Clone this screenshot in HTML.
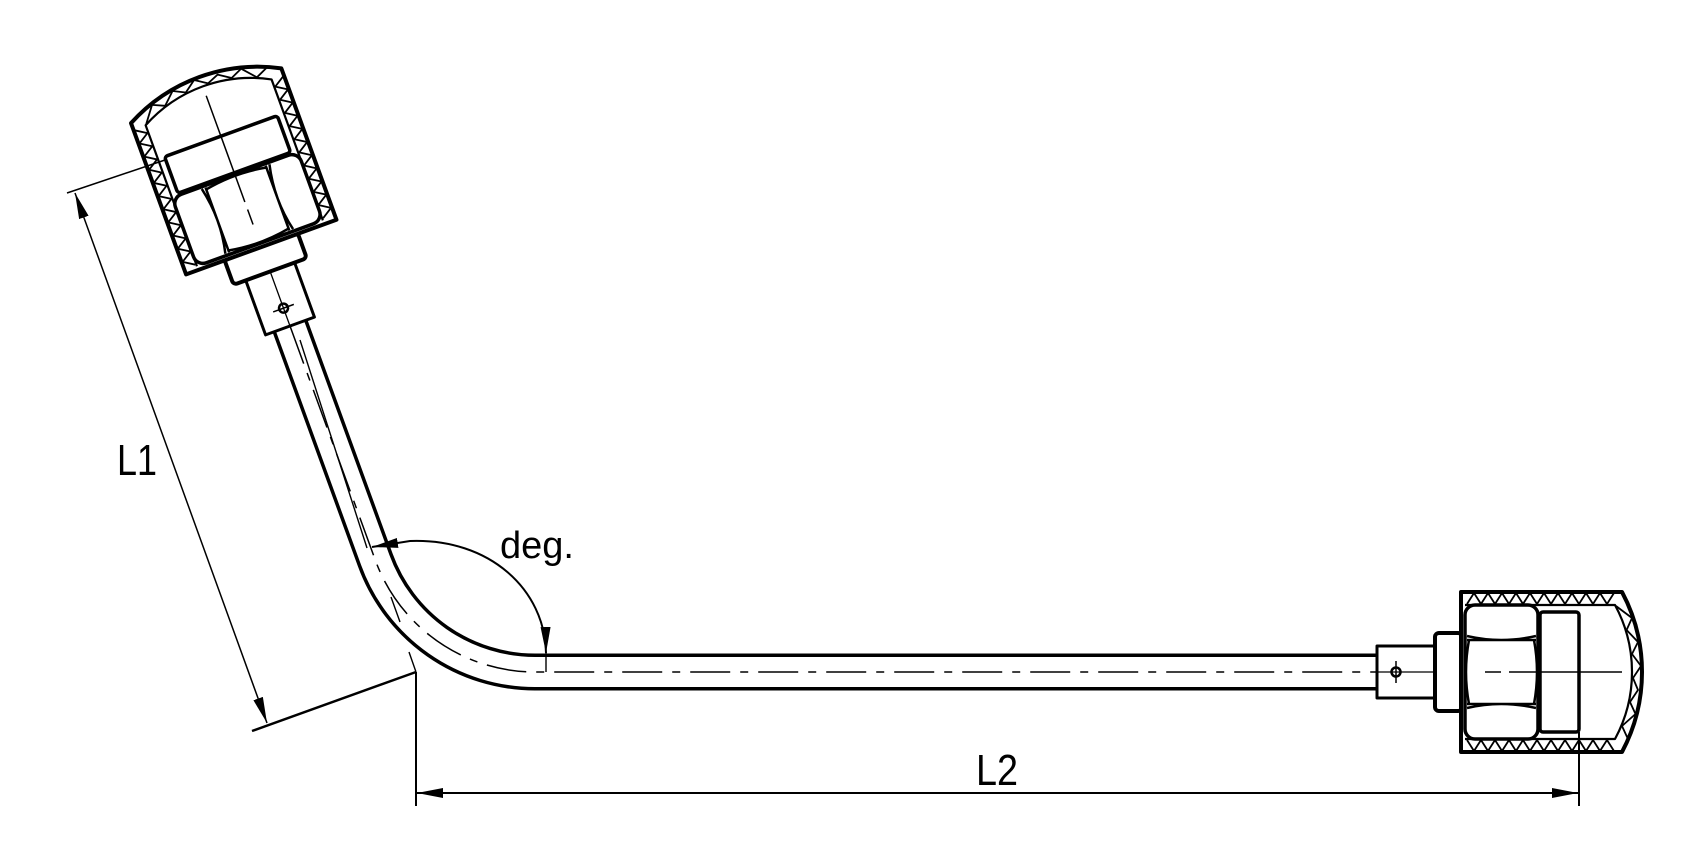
<!DOCTYPE html>
<html><head><meta charset="utf-8"><style>
html,body{margin:0;padding:0;background:#fff;width:1704px;height:853px;overflow:hidden}
svg{display:block}
text{font-family:"Liberation Sans",sans-serif;fill:#000}
</style></head><body>
<svg width="1704" height="853" viewBox="0 0 1704 853" xmlns="http://www.w3.org/2000/svg">
<defs>
<g id="fit" fill="none" stroke="#000" stroke-linejoin="round">
  <rect x="0" y="-26" width="58" height="52" fill="#fff" stroke-width="3"/>
  <line x1="0" y1="0" x2="60" y2="0" stroke-width="1.3"/>
  <circle cx="19" cy="0" r="4.5" stroke-width="2.5"/>
  <line x1="19" y1="-11" x2="19" y2="11" stroke-width="1.5"/>
  <rect x="58" y="-39" width="27" height="78" rx="4" fill="#fff" stroke-width="4"/>
  <path d="M84,-80 L245,-80 A170,170 0 0 1 245,80 L84,80 Z" fill="#fff" stroke-width="4"/>
  <path d="M88,-67 L238,-67 A140.5,140.5 0 0 1 238,67 L88,67" stroke-width="2.2"/>
  <polyline stroke-width="1.8" points="90,-68 97,-79 104,-68 111,-79 118,-68 125,-79 132,-68 139,-79 146,-68 153,-79 160,-68 167,-79 174,-68 181,-79 188,-68 195,-79 202,-68 209,-79 216,-68 223,-79 230,-68 237,-79"/>
  <polyline stroke-width="1.8" points="90,68 97,79 104,68 111,79 118,68 125,79 132,68 139,79 146,68 153,79 160,68 167,79 174,68 181,79 188,68 195,79 202,68 209,79 216,68 223,79 230,68 237,79"/>
  <polyline stroke-width="1.8" points="239,-66 255,-54 249.6,-42 261,-30 255,-18 264,-6 256,6 261,18 253,30 258.5,42 245,54 250.5,66"/>
  <rect x="88" y="-67" width="73" height="134" rx="10" fill="#fff" stroke-width="3.5"/>
  <path d="M90,-36 Q124,-28 159,-36 M90,-32 L159,-32 M90,36 Q124,28 159,36 M90,32 L159,32" stroke-width="2.5"/>
  <path d="M92,-32 Q86,0 92,32 M157,-32 Q163,0 157,32" stroke-width="2.5"/>
  <rect x="163" y="-60" width="39" height="120" rx="3" fill="#fff" stroke-width="3.5"/>
  <path d="M108,0 L124,0 M132,0 L202,0 L245,0" stroke-width="1.5"/>
</g>
<marker id="a" viewBox="0 0 26 10" refX="26" refY="5" markerWidth="26" markerHeight="10" markerUnits="userSpaceOnUse" orient="auto">
  <path d="M0,0 L26,5 L0,10 Z" fill="#000"/>
</marker>
<marker id="as" viewBox="0 0 26 10" refX="0" refY="5" markerWidth="26" markerHeight="10" markerUnits="userSpaceOnUse" orient="auto">
  <path d="M26,0 L0,5 L26,10 Z" fill="#000"/>
</marker>
</defs>

<path d="M290,326 L375.3,560.1 A170,170 0 0 0 535,672 L1379,672" fill="none" stroke="#000" stroke-width="37"/>
<path d="M290,326 L375.3,560.1 A170,170 0 0 0 535,672 L1379,672" fill="none" stroke="#fff" stroke-width="30"/>
<path d="M290,326 L375.3,560.1 A170,170 0 0 0 535,672 L1379,672" fill="none" stroke="#000" stroke-width="1.5" stroke-dasharray="40 10 8 10"/>
<line x1="300" y1="340" x2="367" y2="548" stroke="#000" stroke-width="1.4"/>
<line x1="416" y1="672" x2="409" y2="652" stroke="#000" stroke-width="1.4"/>
<line x1="400" y1="622" x2="391" y2="597" stroke="#000" stroke-width="1.4"/>

<use href="#fit" transform="translate(1377,672)"/>
<use href="#fit" transform="translate(290,326) rotate(-110)"/>

<path d="M546,653 L546,672" stroke="#000" stroke-width="1.4"/>
<path d="M546,653 C545,590 490,538 410,541 L372,547" fill="none" stroke="#000" stroke-width="2" marker-start="url(#as)" marker-end="url(#a)"/>
<text x="500" y="558" font-size="38">deg.</text>

<line x1="67" y1="193" x2="165" y2="160" stroke="#000" stroke-width="1.5"/>
<line x1="252" y1="731" x2="416" y2="672" stroke="#000" stroke-width="2.5"/>
<line x1="75" y1="193" x2="267" y2="723" stroke="#000" stroke-width="1.5" marker-start="url(#as)" marker-end="url(#a)"/>
<text x="117" y="475" font-size="44" textLength="40" lengthAdjust="spacingAndGlyphs">L1</text>

<line x1="416" y1="672" x2="416" y2="806" stroke="#000" stroke-width="2"/>
<line x1="1579" y1="732" x2="1579" y2="806" stroke="#000" stroke-width="2"/>
<line x1="417" y1="793" x2="1578" y2="793" stroke="#000" stroke-width="2" marker-start="url(#as)" marker-end="url(#a)"/>
<text x="976" y="785" font-size="44" textLength="42" lengthAdjust="spacingAndGlyphs">L2</text>
</svg>
</body></html>
